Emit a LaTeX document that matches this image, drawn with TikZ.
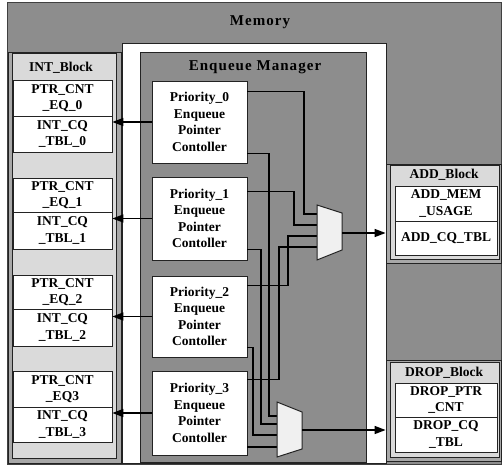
\documentclass[tikz,border=0pt]{standalone}
\usepackage{fontspec}
\setmainfont{Liberation Serif}
\usetikzlibrary{arrows.meta,calc}
\definecolor{memgray}{RGB}{141,141,141}
\definecolor{blkgray}{RGB}{218,218,218}
\definecolor{bevgray}{RGB}{168,168,168}
\definecolor{muxfill}{RGB}{240,240,240}
\definecolor{edge}{RGB}{35,35,35}
\tikzset{
  txt/.style={font=\fontsize{13.5}{16.5}\selectfont\bfseries, align=center, inner sep=0pt, text=black},
  spaced/.style={font=\fontsize{15}{17}\selectfont\bfseries\addfontfeatures{LetterSpace=7}, inner sep=0pt},
  cell/.style={txt, draw=edge, fill=white, line width=0.8pt, rectangle},
  intcell/.style={cell, minimum width=99pt},
  sidecell/.style={cell, minimum width=102pt},
  prio/.style={cell, minimum width=95pt},
  bevel/.style={draw=edge, fill=bevgray, line width=0.8pt, rectangle, inner sep=0pt},
  blockin/.style={draw=edge, fill=blkgray, line width=0.6pt, rectangle, inner sep=0pt},
  wire/.style={line width=1.5pt, draw=black},
  arr/.style={wire, -{Triangle[length=11pt,width=8pt]}},
  mux/.style={draw=edge, fill=muxfill, line width=1pt},
}
\begin{document}
\begin{tikzpicture}[x=1pt,y=-1pt]
\useasboundingbox (0,0) rectangle (502,465);
% Memory
\draw[draw=black!75, fill=memgray, line width=0.8pt] (7,2) rectangle (501,464);
\node[spaced] (memlbl) at (260,22) {Memory};
% white area and Enqueue Manager
\draw[draw=edge, fill=white, line width=0.8pt] (122,43) rectangle (386,463);
\draw[draw=edge, fill=memgray, line width=0.8pt] (140,52) rectangle (366,462);
\node[spaced] (emlbl) at (255,67) {Enqueue Manager};
% INT block
\node[bevel, minimum width=113pt, minimum height=411pt] (INTo) at (64.5,257.5) {};
\node[blockin, minimum width=104pt, minimum height=404.5pt] (INTi) at (64,255.75) {};
\node[txt] (intlbl) at (61,68) {INT\_Block};
\node[intcell, minimum height=36pt] (I0a) at (62.5,98) {PTR\_CNT\\\_EQ\_0};
\node[intcell, minimum height=36pt] (I0b) at (62.5,134) {INT\_CQ\\\_TBL\_0};
\node[intcell, minimum height=34pt] (I1a) at (62.5,195) {PTR\_CNT\\\_EQ\_1};
\node[intcell, minimum height=37pt] (I1b) at (62.5,230.5) {INT\_CQ\\\_TBL\_1};
\node[intcell, minimum height=34pt] (I2a) at (62.5,292) {PTR\_CNT\\\_EQ\_2};
\node[intcell, minimum height=37pt] (I2b) at (62.5,327.5) {INT\_CQ\\\_TBL\_2};
\node[intcell, minimum height=36pt] (I3a) at (62.5,389) {PTR\_CNT\\\_EQ3};
\node[intcell, minimum height=35pt] (I3b) at (62.5,424.5) {INT\_CQ\\\_TBL\_3};
% ADD block
\node[bevel, minimum width=115pt, minimum height=99pt] (ADDo) at (443.5,213.5) {};
\node[blockin, minimum width=109pt, minimum height=93.5pt] (ADDi) at (444.5,212.25) {};
\node[txt] (addlbl) at (444,175) {ADD\_Block};
\node[sidecell, minimum height=35pt] (A0a) at (446,203.5) {ADD\_MEM\\\_USAGE};
\node[sidecell, minimum height=34pt] (A0b) at (446,238) {ADD\_CQ\_TBL};
% DROP block
\node[bevel, minimum width=115pt, minimum height=101pt] (DRPo) at (443.5,410.5) {};
\node[blockin, minimum width=109pt, minimum height=95pt] (DRPi) at (444.5,409.5) {};
\node[txt] (drplbl) at (444,373) {DROP\_Block};
\node[sidecell, minimum height=34pt] (D0a) at (446,400) {DROP\_PTR\\\_CNT};
\node[sidecell, minimum height=35pt] (D0b) at (446,434.5) {DROP\_CQ\\\_TBL};
% Priority controllers
\node[prio, minimum height=82pt] (P0) at (199.5,122) {Priority\_0\\Enqueue\\Pointer\\Contoller};
\node[prio, minimum height=83pt] (P1) at (199.5,218.5) {Priority\_1\\Enqueue\\Pointer\\Contoller};
\node[prio, minimum height=81pt] (P2) at (199.5,316.5) {Priority\_2\\Enqueue\\Pointer\\Contoller};
\node[prio, minimum height=84pt] (P3) at (199.5,413) {Priority\_3\\Enqueue\\Pointer\\Contoller};
% muxes
\coordinate (m1tl) at (317,205); \coordinate (m1tr) at (342,213);
\coordinate (m1br) at (342,250); \coordinate (m1bl) at (317,260);
\coordinate (m1a) at (317,214); \coordinate (m1b) at (317,225);
\coordinate (m1c) at (317,236); \coordinate (m1d) at (317,247);
\coordinate (m1o) at (342,233);
\coordinate (m2tl) at (277,402); \coordinate (m2tr) at (302,412);
\coordinate (m2br) at (302,449); \coordinate (m2bl) at (277,457);
\coordinate (m2a) at (277,416); \coordinate (m2b) at (277,424);
\coordinate (m2c) at (277,435); \coordinate (m2d) at (277,447);
\coordinate (m2o) at (302,430);
% wires to mux 1
\draw[wire] ($(P0.north east)+(0,11)$) -| ($(m1a)+(-13,0)$) -- (m1a);
\draw[wire] ($(P1.north east)+(0,15)$) -| ($(m1b)+(-23,0)$) -- (m1b);
\draw[wire] ($(P2.north east)+(0,10)$) -| ($(m1c)+(-29,0)$) -- (m1c);
\draw[wire] ($(P3.north east)+(0,9)$) -| ($(m1d)+(-38,0)$) -- (m1d);
% wires to mux 2
\draw[wire] ($(P0.south east)+(0,-10)$) -| ($(m2a)+(-8,0)$) -- (m2a);
\draw[wire] ($(P1.south east)+(0,-11)$) -| ($(m2b)+(-16,0)$) -- (m2b);
\draw[wire] ($(P2.south east)+(0,-10)$) -| ($(m2c)+(-24,0)$) -- (m2c);
\draw[wire] (P3.east |- m2d) -- (m2d);
\draw[mux] (m1tl) -- (m1tr) -- (m1br) -- (m1bl) -- cycle;
\draw[mux] (m2tl) -- (m2tr) -- (m2br) -- (m2bl) -- cycle;
% outputs
\draw[arr] (m1o) -- (m1o -| ADDo.west);
\draw[arr] (m2o) -- (m2o -| DRPo.west);
\draw[arr] (P0.west) -- (P0.west -| I0b.east);
\draw[arr] (P1.west) -- (P1.west -| I1b.east);
\draw[arr] (P2.west) -- (P2.west -| I2b.east);
\draw[arr] (P3.west) -- (P3.west -| I3b.east);
\end{tikzpicture}
\end{document}
